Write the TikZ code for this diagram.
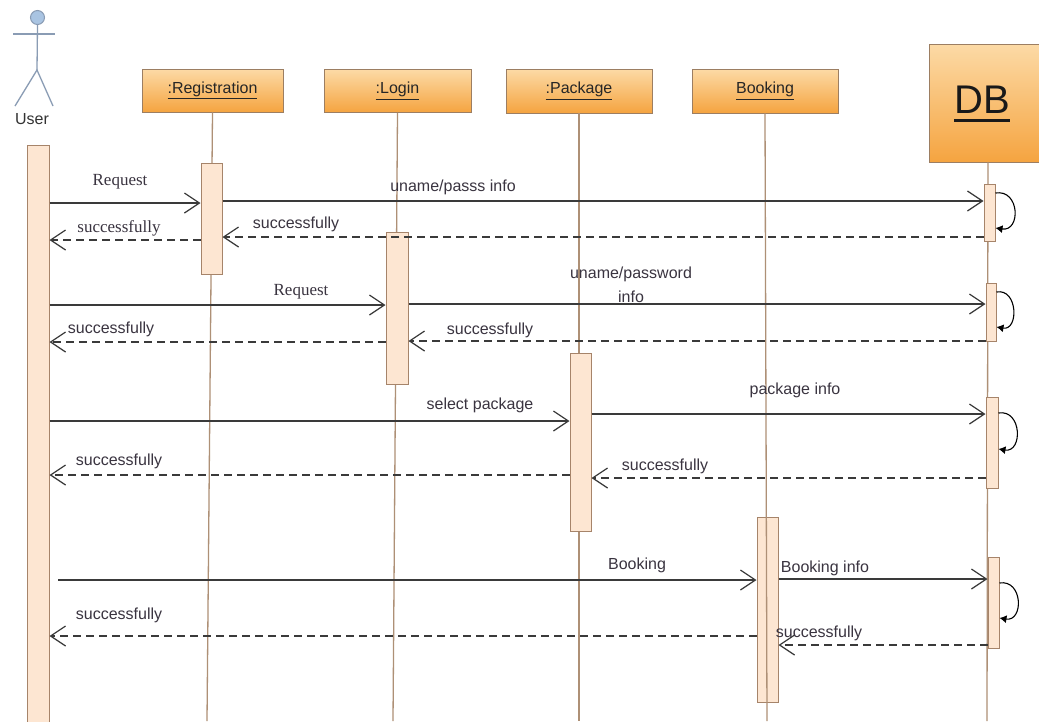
\documentclass[tikz,border=0pt]{standalone}
\usepackage{fontspec}
\setmainfont{Liberation Sans}
\newfontfamily\serifx{Liberation Serif}
\usetikzlibrary{arrows.meta}
\definecolor{objtop}{HTML}{FCDAA6}
\definecolor{objbot}{HTML}{F5A440}
\definecolor{objline}{HTML}{9C7E62}
\definecolor{actfill}{HTML}{FDE6D2}
\definecolor{actline}{HTML}{A6846A}
\definecolor{lifec}{HTML}{AE9076}
\definecolor{msgc}{HTML}{3A3A3A}
\definecolor{txtc}{HTML}{3A3440}
\definecolor{headfill}{HTML}{A9C4E2}
\definecolor{actorc}{HTML}{8A9CB4}
\newcommand\myul[3]{\vtop{\hbox{#3}\kern#1\hrule height #2}}
\begin{document}
\begin{tikzpicture}[x=1pt,y=-1pt,
  obj/.style={draw=objline, line width=0.8pt, top color=objtop, bottom color=objbot, inner sep=0pt, text=black!85, font=\fontsize{16}{18}\selectfont},
  act/.style={draw=actline, fill=actfill, line width=1pt, inner sep=0pt},
  life/.style={draw=lifec, line width=1.3pt},
  msg/.style={draw=msgc, line width=1.4pt, -{Straight Barb[length=15pt,width=20pt,line width=1.2pt]}},
  ret/.style={msg, dash pattern=on 8pt off 5pt},
  lbl/.style={text=txtc, inner sep=0pt, font=\fontsize{16}{18}\selectfont},
  slbl/.style={text=txtc, inner sep=0pt, font=\serifx\fontsize{17}{19}\selectfont},
  selfm/.style={draw=black, line width=1.1pt, -{Latex[length=7pt,width=8pt]}},
  actor/.style={draw=actorc, line width=1.3pt}]
\clip (0,0) rectangle (1039,721);
\fill[white] (0,0) rectangle (1039,721);

% actor
\node[circle, draw=actorc, fill=headfill, line width=1pt, minimum size=14pt, inner sep=0pt] (head) at (37.5,17.5) {};
\coordinate (hip) at (37,70);
\coordinate (armL) at (13,34);
\coordinate (armR) at (55,34);
\coordinate (footL) at (15,106);
\coordinate (footR) at (53,106);
\draw[actor] (head.south) -- (hip);
\draw[actor] (armL) -- (armR);
\draw[actor] (footL) -- (hip) -- (footR);
\node[lbl, text=black!80] (user) at (32,119) {User};

% objects
\node[obj, minimum width=141pt, minimum height=43pt] (reg) at (212.5,90.5) {\myul{1.5pt}{0.8pt}{:Registration}};
\node[obj, minimum width=147pt, minimum height=43pt] (login) at (397.5,91) {\myul{1.5pt}{0.8pt}{:Login}};
\node[obj, minimum width=146pt, minimum height=44pt] (pack) at (579,91) {\myul{1.5pt}{0.8pt}{:Package}};
\node[obj, minimum width=146pt, minimum height=44pt] (book) at (765,91) {\myul{1.5pt}{0.8pt}{Booking}};
\node[obj, minimum width=118pt, minimum height=118pt] (db) at (988,103) {};
\node[inner sep=0pt, text=black!90, font=\fontsize{40}{42}\selectfont] (dbt) at (982,104) {\myul{5pt}{3pt}{DB}};

% lifeline ends
\coordinate (regend) at (207,721);
\coordinate (loginend) at (393,721);
\coordinate (packend) at (579,721);
\coordinate (bookend) at (767,721);
\coordinate (dbend) at (987,721);
\draw[life] (reg.south) -- (regend);
\draw[life] (login.south) -- (loginend);
\draw[life] (pack.south) -- (packend);
\draw[life] (db.south) -- (dbend);

% activation bars
\node[act, minimum width=22pt, minimum height=585pt] (ubar) at (38,437.5) {};
\node[act, minimum width=21pt, minimum height=111pt] (rbar) at (211.5,218.5) {};
\node[act, minimum width=22pt, minimum height=152pt] (lbar) at (397,308) {};
\node[act, minimum width=21pt, minimum height=178pt] (pbar) at (580.5,442) {};
\node[act, minimum width=21pt, minimum height=185pt] (bbar) at (767.5,609.5) {};
\node[act, minimum width=11pt, minimum height=57pt] (db1) at (989.5,212.5) {};
\node[act, minimum width=10pt, minimum height=58pt] (db2) at (991,312) {};
\node[act, minimum width=12pt, minimum height=91pt] (db3) at (992,442.5) {};
\node[act, minimum width=11pt, minimum height=91pt] (db4) at (993.5,602.5) {};
\draw[life] (book.south) -- (bookend);

% messages
\draw[msg] (ubar.east |- 0,203) -- (rbar.west |- 0,203);
\draw[msg] (rbar.east |- 0,201) -- (db1.west |- 0,201);
\draw[ret] (db1.west |- 0,237) -- (rbar.east |- 0,237);
\draw[ret] (rbar.west |- 0,240) -- (ubar.east |- 0,240);

\draw[msg] (ubar.east |- 0,305) -- (lbar.west |- 0,305);
\draw[msg] (lbar.east |- 0,304) -- (db2.west |- 0,304);
\draw[ret] (db2.west |- 0,341) -- (lbar.east |- 0,341);
\draw[ret] (lbar.west |- 0,342) -- (ubar.east |- 0,342);

\draw[msg] (ubar.east |- 0,421) -- (pbar.west |- 0,421);
\draw[msg] (pbar.east |- 0,414) -- (db3.west |- 0,414);
\draw[ret] (db3.west |- 0,478) -- (pbar.east |- 0,478);
\draw[ret] (pbar.west |- 0,475) -- (ubar.east |- 0,475);

\coordinate (bstart) at (58,580);
\draw[msg] (bstart) -- (bbar.west |- 0,580);
\draw[msg] (bbar.east |- 0,579) -- (db4.west |- 0,579);
\draw[ret] (db4.west |- 0,645) -- (bbar.east |- 0,645);
\draw[ret] (bbar.west |- 0,636) -- (ubar.east |- 0,636);

% self messages on DB
\draw[selfm] (db1.east |- 0,193) .. controls (1020,189) and (1021,232) .. (db1.east |- 0,228);
\draw[selfm] (db2.east |- 0,292) .. controls (1018,288) and (1019,331) .. (db2.east |- 0,327);
\draw[selfm] (db3.east |- 0,413) .. controls (1022,409) and (1023,453) .. (db3.east |- 0,449);
\draw[selfm] (db4.east |- 0,583) .. controls (1023,579) and (1024,622) .. (db4.east |- 0,618);

% labels
\node[slbl] (l1) at (120,182) {Request};
\node[lbl] (l2) at (453,187) {uname/passs info};
\node[lbl] (l3) at (296,224) {successfully};
\node[slbl] (l4) at (119,228) {successfully};
\node[slbl] (l5) at (301,292) {Request};
\node[lbl, align=center, font=\fontsize{16}{24}\selectfont] (l6) at (631,285) {uname/password\\info};
\node[lbl] (l7) at (490,330) {successfully};
\node[lbl] (l8) at (111,329) {successfully};
\node[lbl] (l9) at (480,405) {select package};
\node[lbl] (l10) at (795,390) {package info};
\node[lbl] (l11) at (665,466) {successfully};
\node[lbl] (l12) at (119,461) {successfully};
\node[lbl] (l13) at (637,565) {Booking};
\node[lbl] (l14) at (825,568) {Booking info};
\node[lbl] (l15) at (819,633) {successfully};
\node[lbl] (l16) at (119,615) {successfully};
\end{tikzpicture}
\end{document}
